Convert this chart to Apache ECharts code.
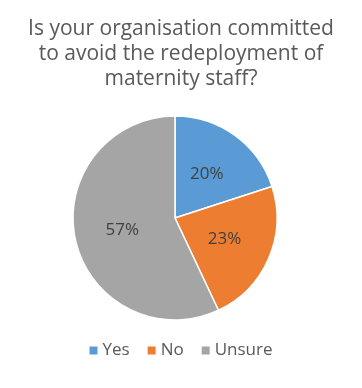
<!DOCTYPE html>
<html><head><meta charset="utf-8">
<script src="https://cdn.jsdelivr.net/npm/echarts@6/dist/echarts.min.js"></script>
<style>html,body{margin:0;padding:0;background:#fff}#c{width:362px;height:388px}</style>
</head><body><div id="c"></div>
<script>
var titleText = 'Is your organisation committed\nto avoid the redeployment of\nmaternity staff?';
var categories = ['Yes', 'No', 'Unsure'];
var values = [20, 23, 57];
var colors = ['#5B9BD5', '#ED7D31', '#A5A5A5'];

var chart = echarts.init(document.getElementById('c'));
chart.setOption({
  animation: false,
  title: {
    text: titleText, left: 'center', top: 12,
    textStyle: {fontFamily: 'Open Sans', fontSize: 21, fontWeight: 'normal', color: '#595959', lineHeight: 25}
  },
  legend: {
    data: categories, bottom: 24, left: 'center', icon: 'rect', itemWidth: 8, itemHeight: 8, itemGap: 18, itemStyle: {borderWidth: 0},
    textStyle: {fontFamily: 'Open Sans', fontSize: 17, color: '#595959'}
  },
  series: [{
    type: 'pie', center: [175, 218], radius: 102, startAngle: 90, clockwise: true,
    data: categories.map(function (c, i) { return {name: c, value: values[i], itemStyle: {color: colors[i]}}; }),
    itemStyle: {borderColor: '#fff', borderWidth: 1.5},
    label: {position: 'inside', formatter: function (p) { return p.value + '%'; }, fontFamily: 'Open Sans', fontSize: 17, color: '#404040'},
    labelLine: {show: false}
  }]
});
</script></body></html>
